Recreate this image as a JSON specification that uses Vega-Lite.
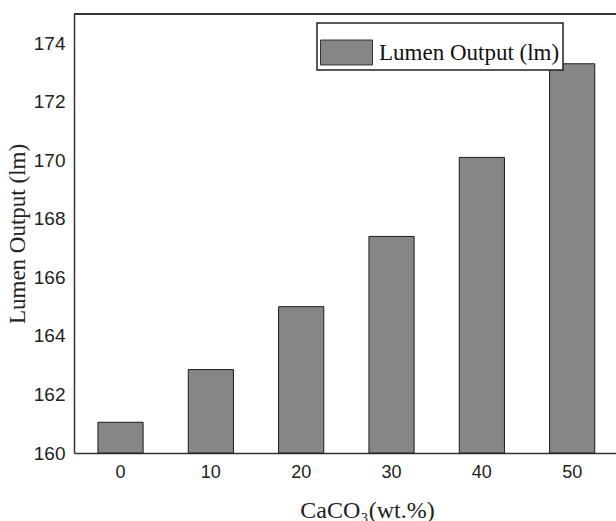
{
  "$schema": "https://vega.github.io/schema/vega-lite/v6.json",
  "autosize": {"type": "none"},
  "width": 542,
  "height": 439,
  "padding": {"left": 74, "top": 14, "right": 0, "bottom": 68},
  "background": "white",
  "config": {"view": {"stroke": null}},
  "data": {
    "values": [
      {"caco3": "0", "lumen": 161.05, "series": "Lumen Output (lm)"},
      {"caco3": "10", "lumen": 162.85, "series": "Lumen Output (lm)"},
      {"caco3": "20", "lumen": 165.0, "series": "Lumen Output (lm)"},
      {"caco3": "30", "lumen": 167.4, "series": "Lumen Output (lm)"},
      {"caco3": "40", "lumen": 170.1, "series": "Lumen Output (lm)"},
      {"caco3": "50", "lumen": 173.3, "series": "Lumen Output (lm)"}
    ]
  },
  "layer": [
    {
      "mark": {"type": "bar", "stroke": "#1a1a1a", "strokeWidth": 1, "opacity": 1},
      "encoding": {
        "x": {
          "field": "caco3",
          "type": "ordinal",
          "sort": ["0", "10", "20", "30", "40", "50"],
          "scale": {"paddingInner": 0.5, "paddingOuter": 0.25, "align": 0.53},
          "axis": {
            "labelAngle": 0,
            "ticks": false,
            "domainColor": "#333333",
            "domainWidth": 1.5,
            "labelFont": "Liberation Sans",
            "labelFontSize": 18,
            "labelColor": "#222222",
            "labelPadding": 10,
            "title": "CaCO₃(wt.%)",
            "titleFont": "Liberation Serif",
            "titleFontSize": 24,
            "titleFontWeight": "normal",
            "titleColor": "#222222",
            "titleX": 293,
            "titleAlign": "center",
            "titlePadding": 17
          }
        },
        "y": {
          "field": "lumen",
          "type": "quantitative",
          "scale": {"domain": [160, 175], "nice": false, "zero": false},
          "axis": {
            "values": [160, 162, 164, 166, 168, 170, 172, 174],
            "grid": false,
            "ticks": false,
            "domainColor": "#333333",
            "domainWidth": 1.5,
            "labelFont": "Liberation Sans",
            "labelFontSize": 19,
            "labelColor": "#222222",
            "labelPadding": 9,
            "title": "Lumen Output (lm)",
            "titleFont": "Liberation Serif",
            "titleFontSize": 23,
            "titleFontWeight": "normal",
            "titleColor": "#222222",
            "titlePadding": 4
          }
        },
        "y2": {"datum": 160},
        "color": {
          "field": "series",
          "type": "nominal",
          "scale": {"range": ["#868686"]},
          "legend": {
            "title": null,
            "orient": "none",
            "legendX": 243,
            "legendY": 9,
            "padding": 3,
            "strokeColor": "#222222",
            "fillColor": "white",
            "symbolType": "M-1,-0.48H1V0.48H-1Z",
            "symbolSize": 2704,
            "symbolStrokeColor": "#333333",
            "symbolStrokeWidth": 1,
            "symbolOpacity": 1,
            "labelFont": "Liberation Serif",
            "labelFontSize": 23,
            "labelColor": "#111111",
            "labelOffset": 6,
            "labelLimit": 400,
            "encode": {"legend": {"update": {"strokeWidth": {"value": 1.5}}}}
          }
        }
      }
    },
    {
      "mark": {"type": "rule", "color": "#333333", "strokeWidth": 2},
      "encoding": {"y": {"datum": 175}}
    }
  ]
}
